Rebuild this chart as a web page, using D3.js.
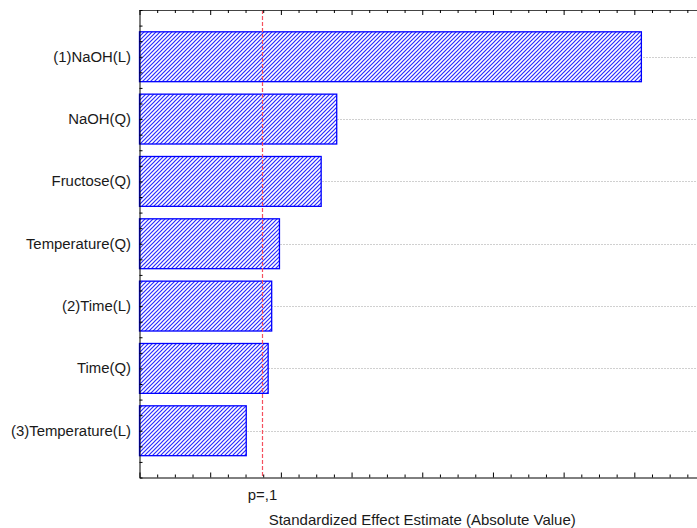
<!DOCTYPE html>
<html>
<head>
<meta charset="utf-8">
<script src="https://cdn.jsdelivr.net/npm/d3@7"></script>
<style>
  html, body { margin: 0; padding: 0; background: #fff; }
  svg { display: block; font-family: "Liberation Sans", Arial, sans-serif; }
</style>
</head>
<body>
<svg id="chart" width="697" height="528"></svg>
<script>
// Pareto chart of standardized effects
const effects = ["(1)NaOH(L)", "NaOH(Q)", "Fructose(Q)", "Temperature(Q)", "(2)Time(L)", "Time(Q)", "(3)Temperature(L)"];
const effectValues = [7.10, 2.79, 2.57, 1.98, 1.87, 1.82, 1.51];
const pCritical = 1.74;
const pLabel = "p=,1";
const xTitle = "Standardized Effect Estimate (Absolute Value)";

const svg = d3.select("#chart");
const plotLeft = 139.5, plotRight = 705, plotTop = 10, plotBottom = 477.5;

const x = d3.scaleLinear().domain([0, 8]).range([plotLeft, plotRight]);
const y = d3.scaleLinear().domain([-0.75, effects.length - 0.25]).range([plotTop, plotBottom]);
const barHalf = 0.4;

// diagonal hatch fill
const defs = svg.append("defs");
const pat = defs.append("pattern")
  .attr("id", "hatch").attr("patternUnits", "userSpaceOnUse")
  .attr("width", 4).attr("height", 4);
pat.append("rect").attr("width", 4).attr("height", 4).attr("fill", "#fff");
pat.append("path")
  .attr("d", "M-1,1 l2,-2 M0,4 l4,-4 M3,5 l2,-2")
  .attr("stroke", "#2a2aff").attr("stroke-width", 1.2);

// dotted gridlines at each effect
svg.append("g").selectAll("line").data(effects).join("line")
  .attr("x1", plotLeft).attr("x2", 697)
  .attr("y1", (d, i) => Math.round(y(i)) + 0.5).attr("y2", (d, i) => Math.round(y(i)) + 0.5)
  .attr("stroke", "#a0a0a0").attr("stroke-dasharray", "1,2");

// bars
svg.append("g").selectAll("rect").data(effectValues).join("rect")
  .attr("x", x(0))
  .attr("y", (d, i) => y(i - barHalf))
  .attr("width", d => x(d) - x(0))
  .attr("height", (d, i) => y(i + barHalf) - y(i - barHalf))
  .attr("fill", "url(#hatch)")
  .attr("stroke", "#0000ff").attr("stroke-width", 1.3);

// critical value line
svg.append("line")
  .attr("x1", x(pCritical)).attr("x2", x(pCritical))
  .attr("y1", plotTop).attr("y2", plotBottom)
  .attr("stroke", "#f5505e").attr("stroke-width", 1.2)
  .attr("stroke-dasharray", "4,2");

// axes: ticks inside the frame, no numeric labels
const minorX = d3.range(0, 8.01, 0.25);
const majorX = d3.range(0, 8.01, 1);
const minorY = d3.range(-0.75, effects.length - 0.25 + 0.001, 0.25);

svg.append("g").attr("transform", `translate(0,${plotBottom})`)
  .call(d3.axisBottom(x).tickValues(minorX).tickSizeInner(-3).tickSizeOuter(0).tickFormat(""))
  .call(g => g.selectAll(".tick line").filter(d => majorX.includes(d)).attr("y2", -5))
  .call(g => g.select(".domain").attr("stroke", "#000"));

svg.append("g").attr("transform", `translate(0,${plotTop})`)
  .call(d3.axisTop(x).tickValues(minorX).tickSizeInner(-3).tickSizeOuter(0).tickFormat(""))
  .call(g => g.selectAll(".tick line").filter(d => majorX.includes(d)).attr("y2", 5))
  .call(g => g.select(".domain").attr("stroke", "#444"));

svg.append("g").attr("transform", `translate(${plotLeft},0)`)
  .call(d3.axisLeft(y).tickValues(minorY).tickSizeInner(-3).tickSizeOuter(0).tickFormat(""))
  .call(g => g.select(".domain").attr("stroke", "#000"));

// effect labels
svg.append("g").selectAll("text").data(effects).join("text")
  .attr("x", 131).attr("y", (d, i) => y(i) + 5)
  .attr("text-anchor", "end")
  .attr("font-size", "14.9px").attr("fill", "#1a1a1a")
  .text(d => d);

// critical value label
svg.append("text")
  .attr("x", x(pCritical)).attr("y", 500)
  .attr("text-anchor", "middle")
  .attr("font-size", "14.9px").attr("fill", "#1a1a1a")
  .text(pLabel);

// x axis title
svg.append("text")
  .attr("x", (plotLeft + plotRight) / 2).attr("y", 525)
  .attr("text-anchor", "middle")
  .attr("font-size", "15px").attr("fill", "#1a1a1a")
  .text(xTitle);
</script>
</body>
</html>
